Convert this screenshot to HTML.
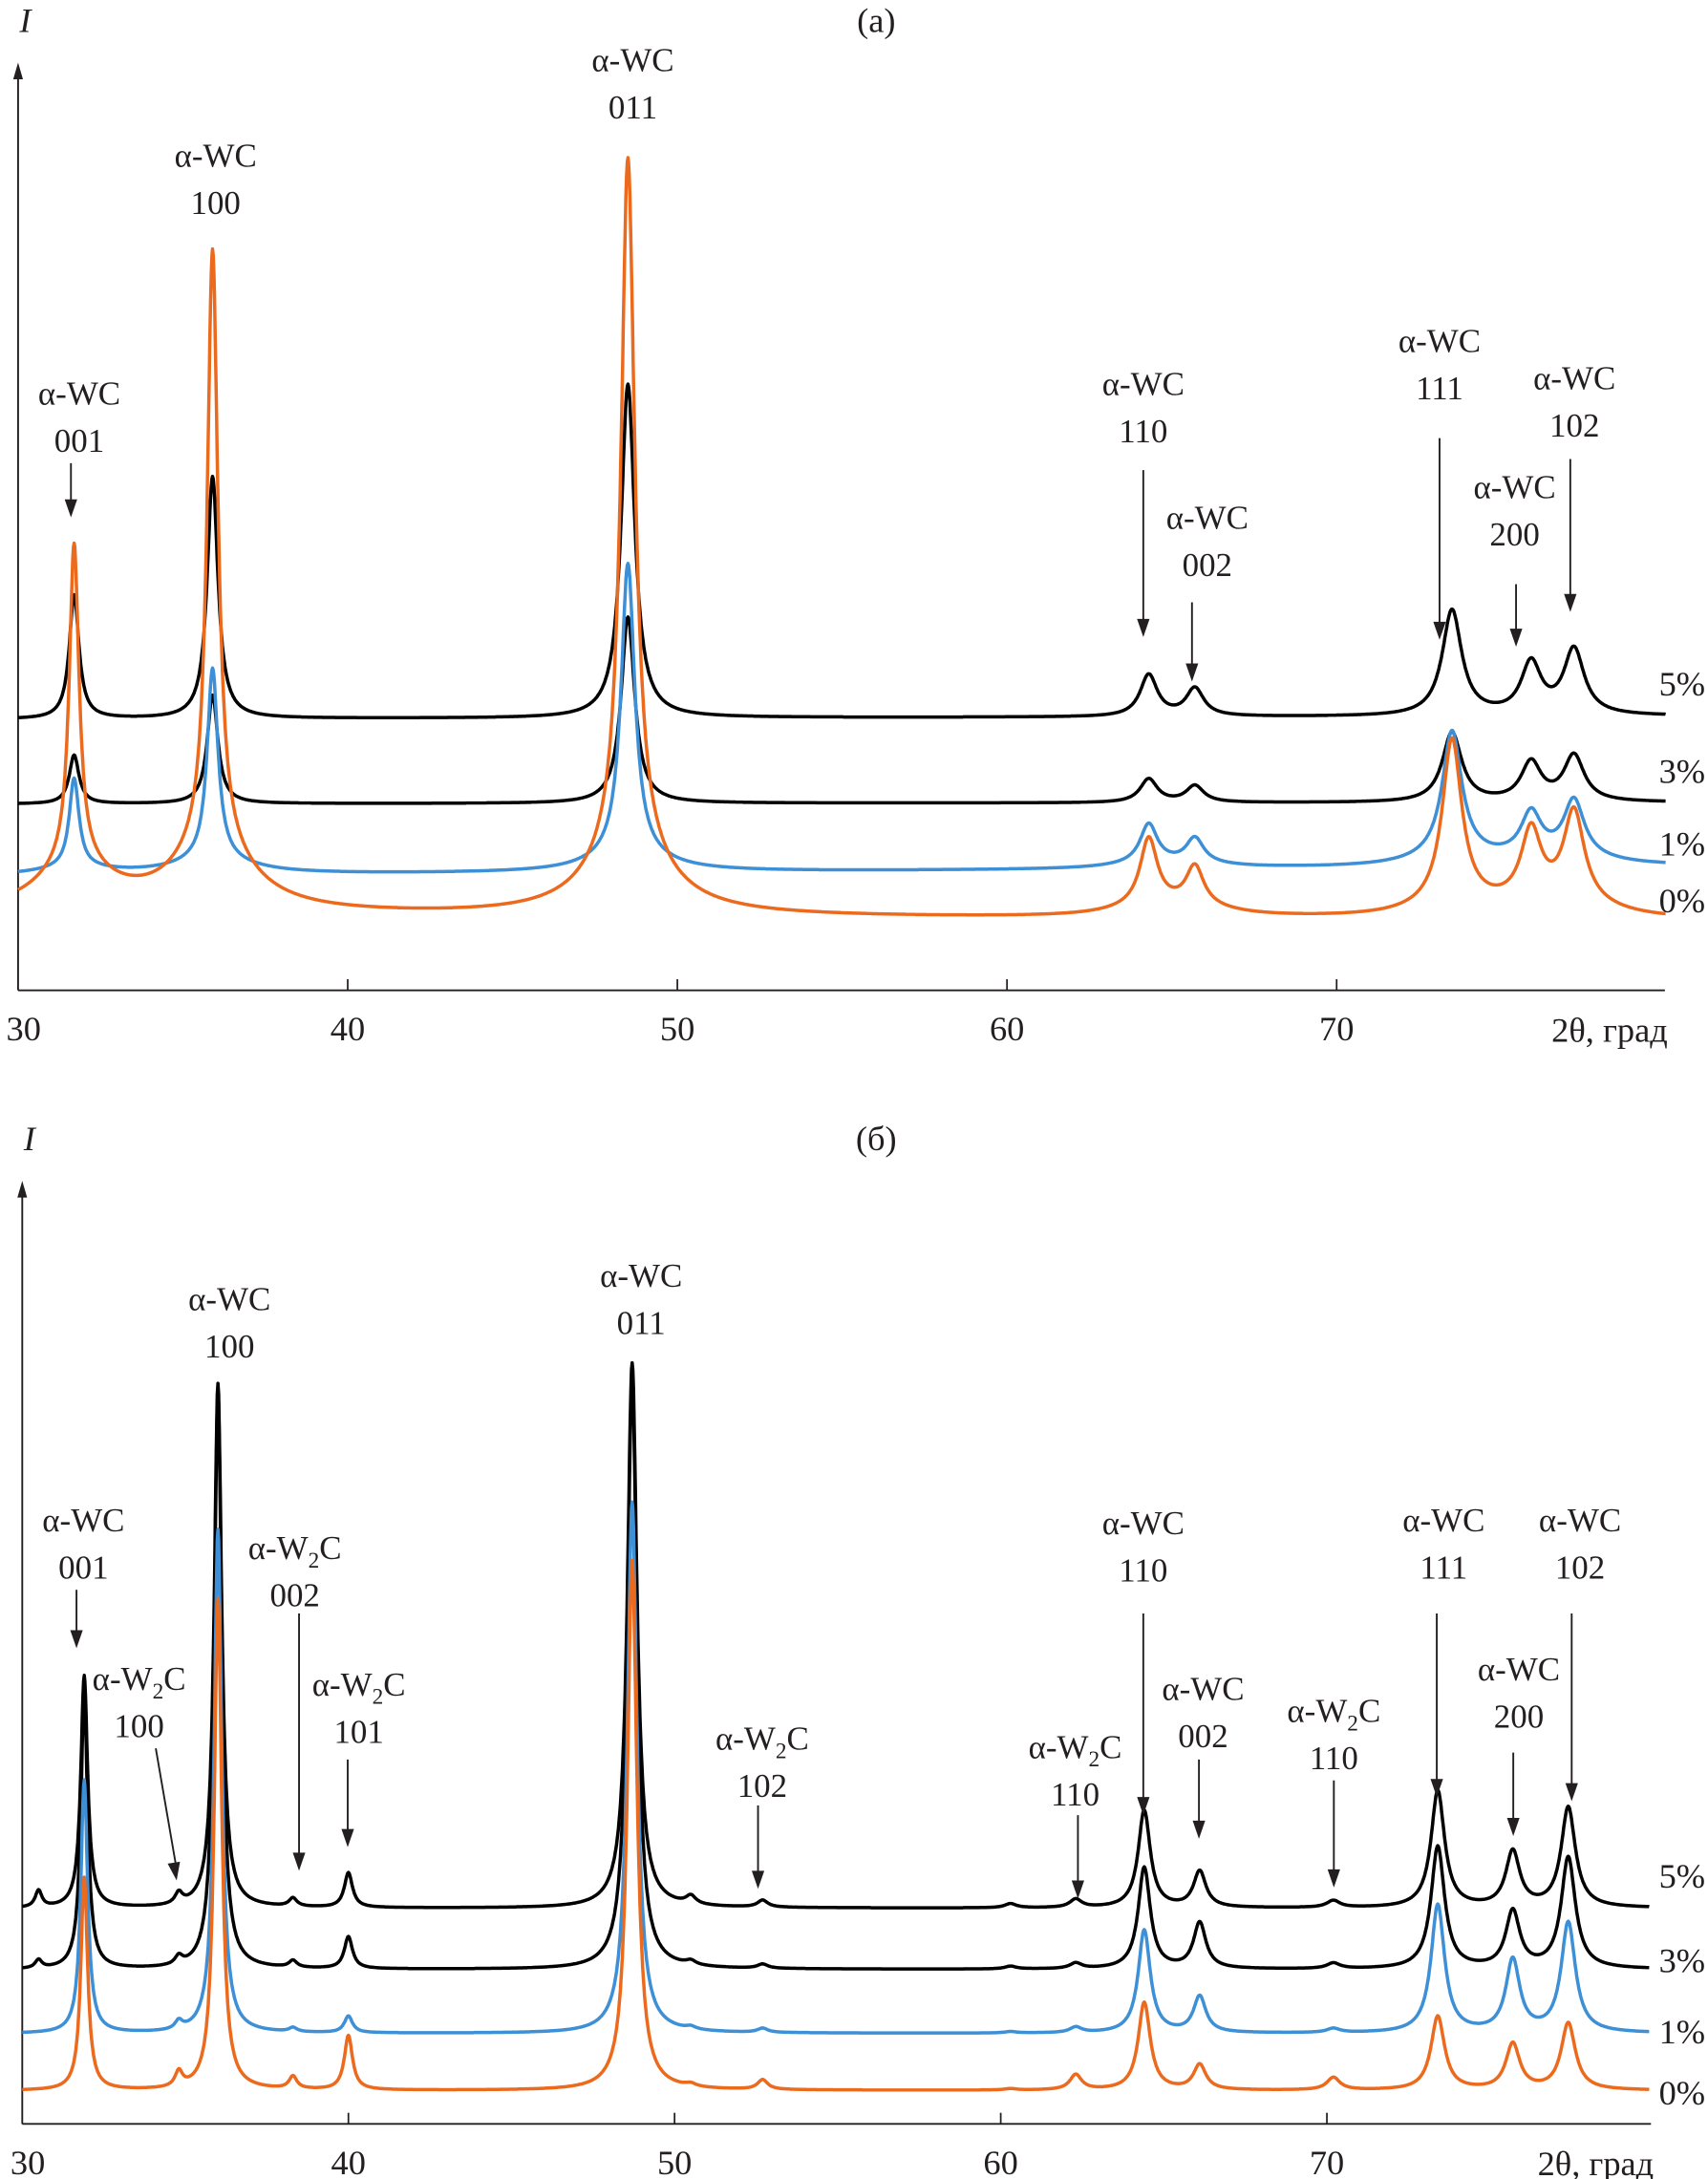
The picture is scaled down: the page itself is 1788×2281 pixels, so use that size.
<!DOCTYPE html>
<html><head><meta charset="utf-8"><style>
html,body{margin:0;padding:0;background:#fff;}
svg{display:block;}
svg text{font-family:"Liberation Serif","DejaVu Serif","Times New Roman",serif;fill:#231f20;}
</style></head><body>
<svg id="chart" width="1788" height="2281" viewBox="0 0 1228 1566.6" xmlns="http://www.w3.org/2000/svg">
<g id="pa"></g>
<g id="pb"></g>
</svg>
<script>
// ---------- Panel (a) data ----------
const peaksA = [31.7, 35.9, 48.5, 64.3, 65.7, 73.5, 75.9, 77.2];
const a5 = [89, 174, 240, 30, 20, 76, 37, 47];
const a3 = [35, 78, 134, 17, 12, 50, 28, 33];
const a1 = [64, 138, 212, 28, 18, 90, 30, 40];
const a0 = [230, 430, 500, 48, 28, 118, 50, 64];
const a1Broad = [5, 10, 10, 3, 2, 6, 4, 4];
const a0Broad = [32, 45, 45, 6, 5, 8, 6, 8];
const a5Broad = [0, 0, 0, 0, 0, 0, 0, 0];
const a3Broad = [0, 0, 0, 0, 0, 0, 0, 0];
const baseA5 = [517, 515];
const baseA3 = [578, 577];
const baseA1 = [630, 623];
const baseA0 = [658, 662];
const ticksA = [30, 40, 50, 60, 70];
const pctLabels = ["5%", "3%", "1%", "0%"];

// ---------- Panel (б) data ----------
const peaksB = [30.5, 31.9, 34.8, 36.0, 38.3, 40.0, 48.7, 50.5, 52.7, 60.3, 62.3, 64.4, 66.1, 70.2, 73.4, 75.7, 77.4];
const b5 = [12, 167, 8, 377, 6, 25, 392, 6, 5, 3, 6, 70, 26, 5, 84, 40, 72];
const b3 = [6, 196, 6, 416, 5, 23, 426, 3, 3, 2, 4, 73, 33, 4, 88, 41, 80];
const b1 = [0, 182, 6, 362, 3, 12, 382, 2, 3, 1, 4, 74, 26, 3, 92, 52, 79];
const b0 = [0, 153, 11, 353, 9, 39, 381, 2, 7, 1, 11, 63, 18, 9, 53, 33, 48];
const baseB5 = [1372, 1372];
const baseB3 = [1416, 1416];
const baseB1 = [1462, 1462];
const baseB0 = [1503, 1503];
const ticksB = [30, 40, 50, 60, 70];

const NS = "http://www.w3.org/2000/svg";
const FF = '"Liberation Serif", "DejaVu Serif", "Times New Roman", serif';
function mk(tag, attrs, parent){const e=document.createElementNS(NS,tag);for(const k in attrs)e.setAttribute(k,attrs[k]);if(tag==='text')e.setAttribute('font-family',FF);parent.appendChild(e);return e;}

function lor(x,x0,g){return g*g/((x-x0)*(x-x0)+g*g);}

function drawPanel(g, cfg){
  const xs = v => cfg.x0 + (v-30)*cfg.kx;
  const ya = mk('line',{x1:cfg.x0,y1:cfg.axisY,x2:cfg.x0,y2:cfg.topY+8,stroke:'#231f20','stroke-width':1.3},g);
  
  
  const ah = mk('path',{d:`M${cfg.x0-3.5},${cfg.topY+12} L${cfg.x0},${cfg.topY} L${cfg.x0+3.5},${cfg.topY+12} Z`,fill:'#231f20'},g);
  
  
  const xa = mk('line',{x1:cfg.x0,y1:cfg.axisY,x2:cfg.xEnd,y2:cfg.axisY,stroke:'#231f20','stroke-width':1.3},g);
  
  
  cfg.ticks.forEach((t,i)=>{
    if(i>0){const tk=mk('line',{x1:xs(t),y1:cfg.axisY,x2:xs(t),y2:cfg.axisY-8,stroke:'#231f20','stroke-width':1.2},g);
    
    }
    const tl=mk('text',{x:xs(t)+(i===0?4:0),y:cfg.axisY+36,'font-size':25,'text-anchor':'middle'},g);
    tl.textContent=t;
    
    
  });
  const xt=mk('text',{x:cfg.xEnd+2,y:cfg.axisY+37,'font-size':25,'text-anchor':'end'},g);
  xt.textContent='2θ, град';
  
  
  const yt=mk('text',{x:cfg.x0+1,y:cfg.topY-22,'font-size':25,'font-style':'italic'},g);
  yt.textContent='I';
  
  
  const pt=mk('text',{x:630,y:cfg.topY-22,'font-size':25,'text-anchor':'middle'},g);
  pt.textContent=cfg.title;
  
  
  cfg.series.forEach((s,si)=>{
    let d='';
    for(let v=30; v<=cfg.vEnd; v+=0.02){
      const t=(v-30)/(cfg.vEnd-30);
      let y=s.base[0]+(s.base[1]-s.base[0])*t;
      const gw=cfg.g0*(1+(v-30)/cfg.gs);
      cfg.peaks.forEach((p,k)=>{y-=s.h[k]*lor(v,p,gw); if(s.broad) y-=s.broad[k]*lor(v,p,1.4);});
      d+=(d?'L':'M')+xs(v).toFixed(1)+','+y.toFixed(1);
    }
    const path=mk('path',{d:d,fill:'none',stroke:s.color,'stroke-width':2.4,'stroke-linejoin':'round'},g);
    
    
    const lb=mk('text',{x:1226,y:s.labelY,'font-size':25,'text-anchor':'end'},g);
    lb.textContent=pctLabels[si];
    
    
  });
  cfg.ann.forEach(a=>{
    const t1=mk('text',{x:a.x,y:a.y,'font-size':24,'text-anchor':'middle'},g);
    if(a.w2c){t1.innerHTML='α-W<tspan font-size="16" dy="6">2</tspan><tspan dy="-6">C</tspan>';}
    else t1.textContent='α-WC';
    
    
    const t2=mk('text',{x:a.x,y:a.y+34,'font-size':24,'text-anchor':'middle'},g);
    t2.textContent=a.hkl;
    
    
    if(a.ar){
      const [x1,y1,x2,y2]=a.ar;
      const ln=mk('line',{x1:x1,y1:y1,x2:x2,y2:y2-8,stroke:'#231f20','stroke-width':1.3},g);
      
      
      const ang=Math.atan2(y2-y1,x2-x1);
      const L=13,W=4.5;
      const bx=x2-L*Math.cos(ang),by=y2-L*Math.sin(ang);
      const px=-Math.sin(ang)*W,py=Math.cos(ang)*W;
      const hd=mk('path',{d:`M${x2},${y2} L${bx+px},${by+py} L${bx-px},${by-py} Z`,fill:'#231f20'},g);
      
      
    }
  });
}

drawPanel(document.getElementById('pa'),{
  x0:13,kx:23.7,xEnd:1197,vEnd:80,axisY:712,topY:45,g0:0.17,gs:40,title:'(а)',
  peaks:peaksA,ticks:ticksA,
  series:[
    {name:'5pct',h:a5,broad:a5Broad,base:baseA5,color:'#000',labelY:500},
    {name:'3pct',h:a3,broad:a3Broad,base:baseA3,color:'#000',labelY:563},
    {name:'1pct',h:a1,broad:a1Broad,base:baseA1,color:'#3d8fd6',labelY:615},
    {name:'0pct',h:a0,broad:a0Broad,base:baseA0,color:'#ec6a1e',labelY:656}],
  ann:[
    {x:57,y:291,hkl:'001',ar:[51,333,51,372]},
    {x:155,y:120,hkl:'100'},
    {x:455,y:51,hkl:'011'},
    {x:822,y:284,hkl:'110',ar:[822,338,822,458]},
    {x:868,y:380,hkl:'002',ar:[857,433,857,490]},
    {x:1035,y:253,hkl:'111',ar:[1035,315,1035,460]},
    {x:1089,y:358,hkl:'200',ar:[1090,420,1090,465]},
    {x:1132,y:280,hkl:'102',ar:[1129,330,1129,440]}]
});

drawPanel(document.getElementById('pb'),{
  x0:16,kx:23.45,xEnd:1187,vEnd:79.9,axisY:1527,topY:849,g0:0.12,gs:40,title:'(б)',
  peaks:peaksB,ticks:ticksB,
  series:[
    {name:'5pct',h:b5,base:baseB5,color:'#000',labelY:1357},
    {name:'3pct',h:b3,base:baseB3,color:'#000',labelY:1418},
    {name:'1pct',h:b1,base:baseB1,color:'#3d8fd6',labelY:1469},
    {name:'0pct',h:b0,base:baseB0,color:'#ec6a1e',labelY:1513}],
  ann:[
    {x:60,y:1101,hkl:'001',ar:[55,1143,55,1185]},
    {x:100,y:1215,hkl:'100',w2c:true,ar:[112,1257,127,1352]},
    {x:165,y:942,hkl:'100'},
    {x:212,y:1121,hkl:'002',w2c:true,ar:[215,1160,215,1345]},
    {x:258,y:1219,hkl:'101',w2c:true,ar:[250,1265,250,1328]},
    {x:461,y:925,hkl:'011'},
    {x:548,y:1258,hkl:'102',w2c:true,ar:[545,1298,545,1358]},
    {x:773,y:1264,hkl:'110',w2c:true,ar:[775,1305,775,1365]},
    {x:822,y:1103,hkl:'110',ar:[822,1160,822,1305]},
    {x:865,y:1222,hkl:'002',ar:[862,1265,862,1322]},
    {x:959,y:1238,hkl:'110',w2c:true,ar:[959,1280,959,1357]},
    {x:1038,y:1101,hkl:'111',ar:[1033,1160,1033,1292]},
    {x:1092,y:1208,hkl:'200',ar:[1088,1260,1088,1320]},
    {x:1136,y:1101,hkl:'102',ar:[1130,1160,1130,1295]}]
});
</script>
</body></html>
